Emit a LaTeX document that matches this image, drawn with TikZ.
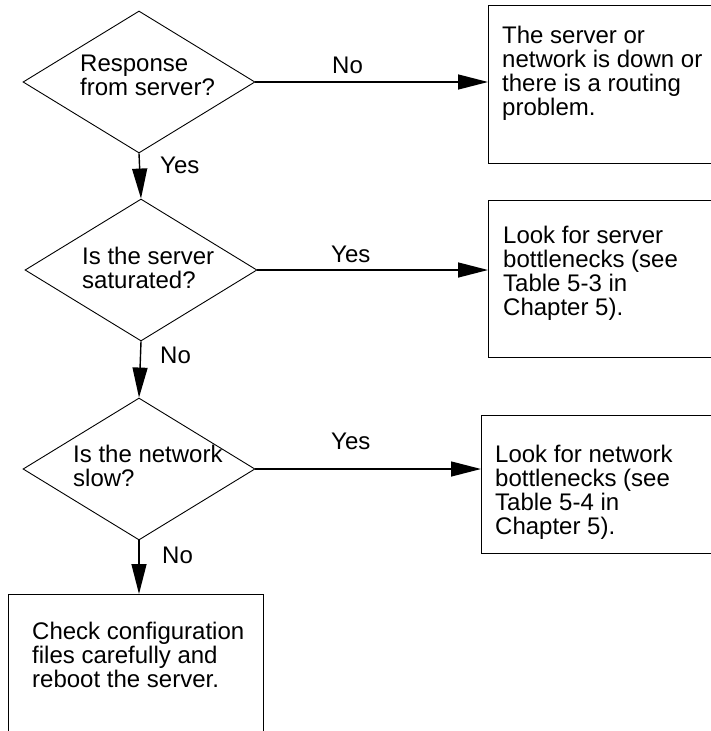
\documentclass[tikz,border=0pt]{standalone}
\usepackage{fontspec}
\setmainfont{Liberation Sans}
\usetikzlibrary{shapes.geometric,arrows.meta}
\tikzset{
  decision/.style={draw,diamond,line width=0.9pt,inner sep=0pt,
    minimum width=232pt,minimum height=142pt},
  outcome/.style={draw,rectangle,line width=1.2pt,inner sep=0pt,anchor=north west},
  txt/.style={inner sep=0pt,align=left,anchor=base west,
    font=\fontsize{24}{24}\selectfont},
  flow/.style={line width=1.4pt,-{Triangle[length=30pt,width=15pt]}}
}

\begin{document}
\begin{tikzpicture}[x=1pt,y=-1pt]
\useasboundingbox (0,0) rectangle (711,731);
\clip (0,0) rectangle (711,731);

% questions (text placed by the baseline of its last line)
\node[decision] (q1) at (139,82) {};
\node[decision] (q2) at (141,270) {};
\node[decision] (q3) at (139,469) {};
\node[txt] (q1t) at (80,95) {Response\\from server?};
\node[txt] (q2t) at (82,288) {Is the server\\saturated?};
\node[txt] (q3t) at (73,486) {Is the network\\slow?};

% answers
\node[outcome,minimum width=260pt,minimum height=158pt] (r1) at (488,5) {};
\node[outcome,minimum width=260pt,minimum height=157pt] (r2) at (488,200) {};
\node[outcome,minimum width=260pt,minimum height=138pt] (r3) at (481,415) {};
\node[outcome,minimum width=255pt,minimum height=200pt] (r4) at (8,594) {};
\node[txt] (r1t) at (502,115) {The server or\\network is down or\\there is a routing\\problem.};
\node[txt] (r2t) at (503,315) {Look for server\\bottlenecks (see\\Table 5-3 in\\Chapter 5).};
\node[txt] (r3t) at (495,534) {Look for network\\bottlenecks (see\\Table 5-4 in\\Chapter 5).};
\node[txt] (r4t) at (32,687) {Check configuration\\files carefully and\\reboot the server.};

% connectors
\draw[flow] (q1.east) -- (q1.east -| r1.west);
\draw[flow] (q2.east) -- (q2.east -| r2.west);
\draw[flow] (q3.east) -- (q3.east -| r3.west);
\draw[flow] (q1.south) -- (q2.north);
\draw[flow] (q2.south) -- (q3.north);
\draw[flow] (q3.south) -- (q3.south |- r4.north);

\node[txt] (l1) at (332,73) {No};
\node[txt] (l2) at (331,262) {Yes};
\node[txt] (l3) at (331,449) {Yes};
\node[txt] (l4) at (160,173) {Yes};
\node[txt] (l5) at (160,363) {No};
\node[txt] (l6) at (162,563) {No};
\end{tikzpicture}
\end{document}
